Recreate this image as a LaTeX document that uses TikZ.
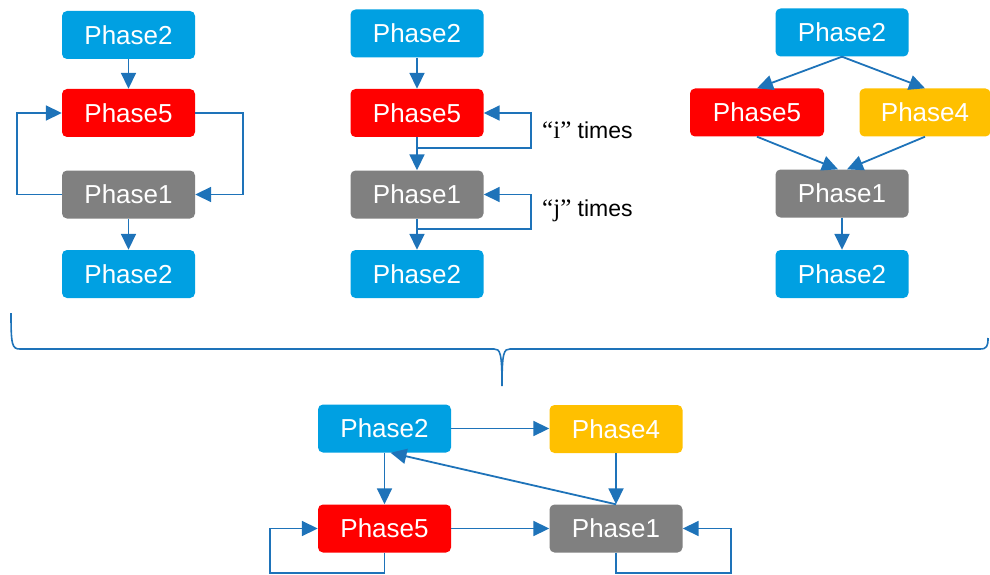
\documentclass[tikz,border=0pt]{standalone}
\usepackage{fontspec}
\setmainfont{Liberation Sans}
\newfontfamily\serifi{Liberation Serif}
\usetikzlibrary{arrows.meta,calc}
\definecolor{pblue}{RGB}{0,160,226}
\definecolor{pred}{RGB}{255,0,0}
\definecolor{pgray}{RGB}{128,128,128}
\definecolor{pyellow}{RGB}{255,192,0}
\definecolor{lnblue}{RGB}{30,115,185}
\tikzset{
  phase/.style={rounded corners=5pt, minimum width=133pt, minimum height=48pt,
    inner sep=0pt, text=white, font=\fontsize{26}{30}\selectfont},
  pb/.style={phase, fill=pblue},
  pr/.style={phase, fill=pred},
  pg/.style={phase, fill=pgray},
  py/.style={phase, fill=pyellow},
  arr/.style={draw=lnblue, line width=1.8pt, -{Triangle[length=16pt,width=15pt]}},
  ln/.style={draw=lnblue, line width=1.8pt},
  lbl/.style={anchor=west, inner sep=0pt, font=\fontsize{23}{27}\selectfont},
}
\begin{document}
\begin{tikzpicture}[x=1pt,y=-1pt]
\useasboundingbox (0,0) rectangle (990,575);
% top-left
\node[pb] (A2) at (128.5,35) {Phase2};
\node[pr] (A5) at (128.5,113) {Phase5};
\node[pg] (A1) at (128.5,194.5) {Phase1};
\node[pb] (A2b) at (128.5,274) {Phase2};
\draw[arr] (A2.south) -- (A5.north);
\draw[arr] (A1.south) -- (A2b.north);
\draw[arr] (A1.west) -- ++(-45,0) |- (A5.west);
\draw[arr] (A5.east) -- ++(48,0) |- (A1.east);
% middle
\node[pb] (M2) at (417,33.5) {Phase2};
\node[pr] (M5) at (417,113) {Phase5};
\node[pg] (M1) at (417,194.5) {Phase1};
\node[pb] (M2b) at (417,274) {Phase2};
\draw[arr] (M2.south) -- (M5.north);
\draw[arr] (M5.south) -- (M1.north);
\draw[arr] (M1.south) -- (M2b.north);
\coordinate (mi) at (417,148);
\coordinate (mj) at (417,229);
\draw[arr] (mi) -- ++(114,0) |- (M5.east);
\draw[arr] (mj) -- ++(114,0) |- (M1.east);
\node[lbl] (li) at (542,130) {{\serifi\fontsize{25}{27}\selectfont\char"201C i\char"201D} times};
\node[lbl] (lj) at (542,211) {{\serifi\fontsize{25}{27}\selectfont\char"201C j\char"201D} times};
% right
\node[pb] (R2) at (842,32.5) {Phase2};
\node[pr, minimum width=134pt] (R5) at (757,112.5) {Phase5};
\node[py, minimum width=131pt] (R4) at (925,112.5) {Phase4};
\node[pg] (R1) at (842,193.5) {Phase1};
\node[pb] (R2b) at (842,274) {Phase2};
\draw[arr] (R2.south) -- (R5.north);
\draw[arr] (R2.south) -- (R4.north);
\draw[arr] (R5.south) -- ($(R1.north)+(-4,0)$);
\draw[arr] (R4.south) -- ($(R1.north)+(5,0)$);
\draw[arr] (R1.south) -- (R2b.north);
% brace
\draw[ln, line width=1.6pt] (11,313) .. controls (11,345) and (12,349) .. (20,349)
  -- (494,349) .. controls (500,349) and (502,352) .. (502,386)
  .. controls (502,352) and (504,349) .. (510,349)
  -- (980,349) .. controls (987,349) and (988,346) .. (988,338);
% bottom
\node[pb] (B2) at (384.5,428.5) {Phase2};
\node[py] (B4) at (616,429) {Phase4};
\node[pr] (B5) at (384.5,528.5) {Phase5};
\node[pg] (B1) at (616,528.5) {Phase1};
\draw[arr] (B2.east) -- (B2.east -| B4.west);
\draw[arr] (B2.south) -- (B5.north);
\draw[arr] (B4.south) -- (B1.north);
\draw[arr] (B1.north) -- ($(B2.south)+(6,0)$);
\draw[arr] (B5.east) -- (B1.west);
\coordinate (lp5) at (270,573);
\coordinate (lp1) at (731,573);
\draw[arr] (B5.south) |- (lp5) |- (B5.west);
\draw[arr] (B1.south) |- (lp1) |- (B1.east);
\end{tikzpicture}
\end{document}
